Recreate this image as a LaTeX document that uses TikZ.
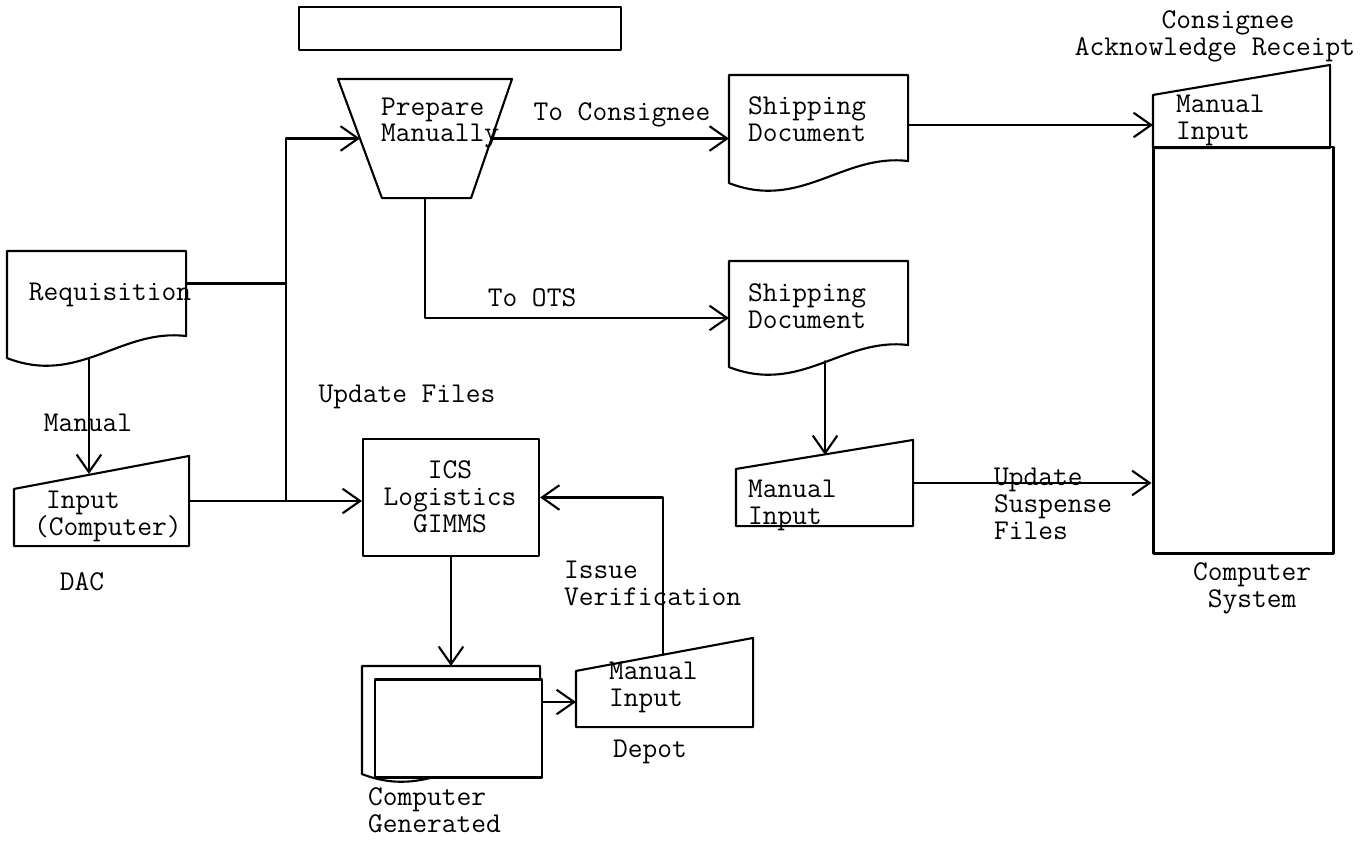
\documentclass[tikz,border=0pt]{standalone}
\usepackage{fontspec}
\usetikzlibrary{arrows.meta, fit}

\newcommand{\typefont}{\ttfamily\fontsize{16.3}{15.3}\selectfont}
% 書類 (下端が波形)
\newcommand{\docoutline}[1]{%
  \draw (#1.north west) -- (#1.north east) -- (#1.south east)
    .. controls ([shift={(-65,-8)}]#1.south east) and ([shift={(72,50)}]#1.south west)
    .. ([shift={(0,22)}]#1.south west) -- cycle;}
% 手操作入力 (上辺が斜め)
\newcommand{\inputoutline}[2]{%
  \draw (#1.south west) -- ([shift={(0,#2)}]#1.north west) -- (#1.north east) -- (#1.south east) -- cycle;}

\begin{document}
\begin{tikzpicture}[x=0.02cm, y=-0.02cm, line width=1.2pt, line cap=round, line join=round,
    every node/.style={font=\typefont, inner sep=0pt},
    flowarrow/.style={-{Straight Barb[length=10pt, width=14pt]}},
    heavy/.style={draw, line width=1.7pt}]
    \useasboundingbox (0,0) rectangle (1370,842);

    % 枠
    \node[fit={(299,7) (621,50)}, heavy] (title) {};
    \node[fit={(339,80) (511,197)}] (prep) {};
    \node[fit={(8,252) (185,335)}] (req) {};
    \node[fit={(730,76) (907,160)}] (sd1) {};
    \node[fit={(730,262) (907,344)}] (sd2) {};
    \node[fit={(15,457) (188,545)}] (input) {};
    \node[fit={(363,439) (539,556)}, draw] (ics) {};
    \node[fit={(737,441) (912,525)}] (mid) {};
    \node[fit={(577,639) (752,726)}] (depot) {};
    \node[fit={(1154,66) (1329,147)}] (cons) {};
    \node[fit={(1153,147) (1333,553)}, heavy] (cs) {};
    \node[fit={(363,667) (539,751)}] (genback) {};

    \foreach \nm in {req, sd1, sd2, genback} \docoutline{\nm};
    \foreach \nm/\sk in {input/33, mid/29, depot/33, cons/30} \inputoutline{\nm}{\sk};
    \draw (prep.north west) -- (prep.north east) -- ([shift={(-41,0)}]prep.south east)
        -- ([shift={(44,0)}]prep.south west) -- cycle;
    \node[fit={(375,679) (542,777)}, heavy, fill=white] (gen) {};

    % テキスト
    \node (reqtxt) at (110,295) {Requisition};
    \node (manualtxt) at (88,423) {Manual};
    \node[align=left, anchor=west] (inputtxt) at (33,516) {\hspace*{0.42em}Input\\(Computer)};
    \node (dactxt) at (82,582) {DAC};
    \node (updtxt) at (407,397) {Update Files};
    \node[align=left, anchor=west] (preptxt) at (380,123) {Prepare\\Manually};
    \node (tocons) at (622,115) {To Consignee};
    \node[align=left, anchor=west] (sd1txt) at (747,119) {Shipping\\Document};
    \node (tots) at (532,298) {To OTS};
    \node[align=left, anchor=west] (sd2txt) at (747,306) {Shipping\\Document};
    \node[align=center] (icstxt) at (450,497) {ICS\\Logistics\\GIMMS};
    \node[align=left, anchor=west] (issuetxt) at (563,583) {Issue\\Verification};
    \node[align=left, anchor=west] (depottxt) at (608,687) {Manual\\Input};
    \node[anchor=west] (depotlbl) at (612,752) {Depot};
    \node[align=left, anchor=west] (gentxt) at (367,810) {Computer\\Generated};
    \node[align=left, anchor=west] (midtxt) at (747,505) {Manual\\Input};
    \node[align=left, anchor=west] (suspense) at (993,504) {Update\\Suspense\\Files};
    \node[align=left, anchor=west] (constxt) at (1175,120) {Manual\\Input};
    \node[align=center] (acktxt) at (1215,36) {\hspace*{0.9em}Consignee\\Acknowledge Receipt};
    \node[align=center] (cstxt) at (1252,588) {Computer\\System};

    % 流れ線
    \coordinate (jn) at (286,501);
    \draw ([shift={(0,-10)}]req.east) -- ([shift={(0,-10)}]req.east -| jn);
    \draw[flowarrow] (jn) |- ([shift={(22,0)}]prep.west);
    \draw[flowarrow] (input.east) -- (input.east -| ics.west);
    \draw[flowarrow] ([shift={(82,23)}]req.south west) -- ([shift={(75,18)}]input.north west);
    \draw[flowarrow] ([shift={(-20,0)}]prep.east) -- (prep.east -| sd1.west);
    \draw[flowarrow] (prep.south) |- ([shift={(0,15)}]sd2.west);
    \draw[flowarrow] ([shift={(0,7)}]sd1.east) -- ([shift={(0,7)}]sd1.east -| cons.west);
    \draw[flowarrow] ([shift={(-83,16)}]sd2.south east) -- ([shift={(-88,15)}]mid.north east);
    \draw[flowarrow] (mid.east) -- (mid.east -| cs.west);
    \draw[flowarrow] (ics.south) -- (ics.south |- genback.north);
    \draw[flowarrow] ([shift={(0,-26)}]gen.east) -- ([shift={(0,-26)}]gen.east -| depot.west);
    \draw[flowarrow] ([shift={(-90,17)}]depot.north east) |- (ics.east);
\end{tikzpicture}
\end{document}
